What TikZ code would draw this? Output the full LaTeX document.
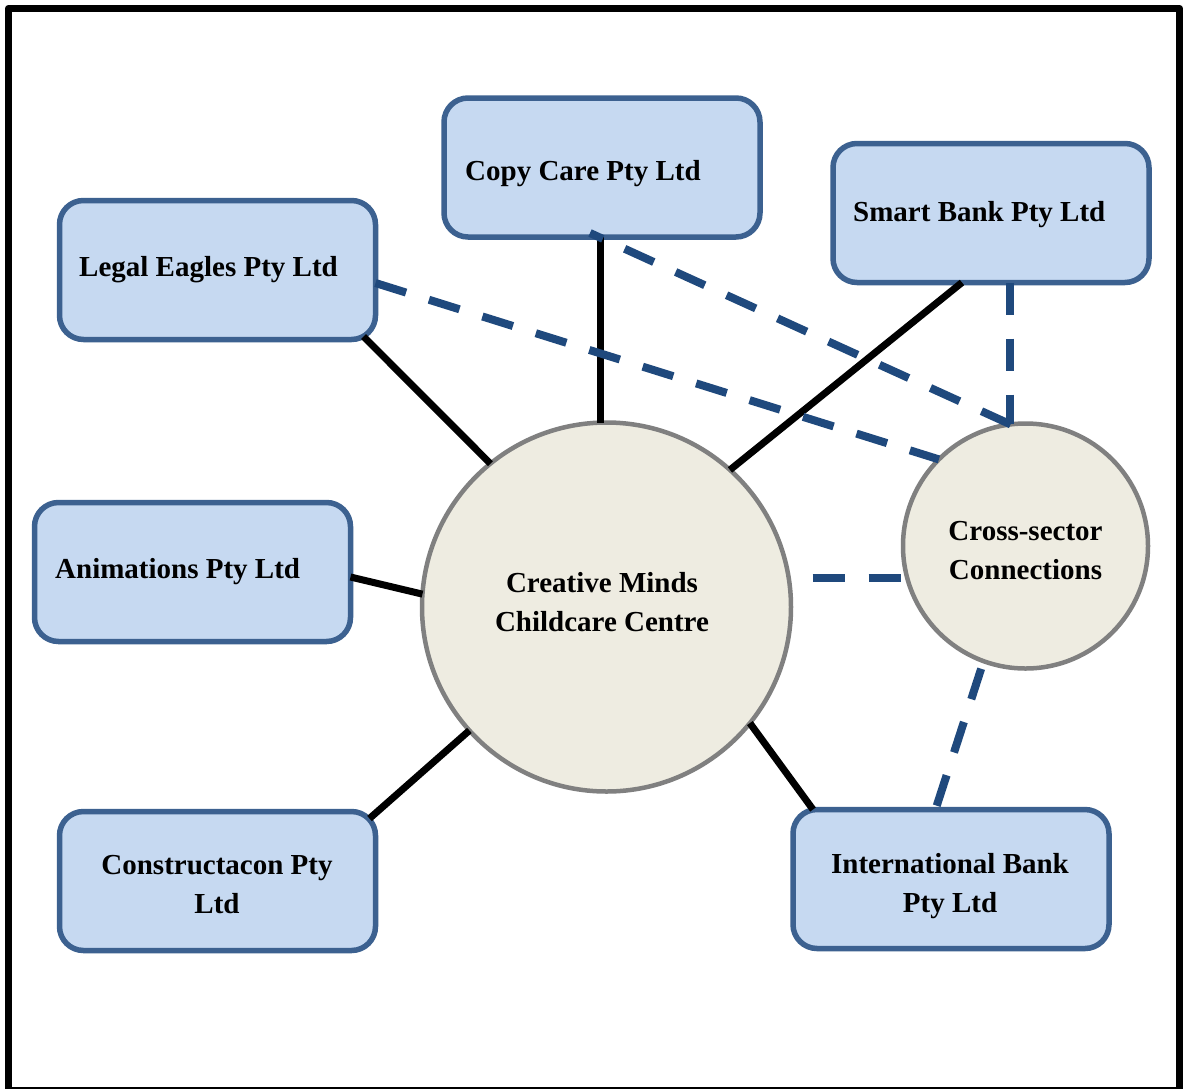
\documentclass[tikz,border=0pt]{standalone}
\usepackage{fontspec}
\setmainfont{Liberation Serif}
\usetikzlibrary{calc}
\definecolor{boxfill}{HTML}{C6D9F1}
\definecolor{boxline}{HTML}{3C6190}
\definecolor{dashc}{HTML}{1F497D}
\definecolor{circfill}{HTML}{EEECE1}
\definecolor{circline}{HTML}{808080}
\begin{document}
\begin{tikzpicture}[x=1pt,y=-1pt,
  orgbox/.style={draw=boxline, fill=boxfill, line width=5.5pt, rounded corners=24pt,
    minimum width=316pt, minimum height=139pt, inner sep=0pt, outer sep=0pt},
  hub/.style={circle, draw=circline, fill=circfill, line width=4.5pt, inner sep=0pt, outer sep=0pt},
  lbl/.style={font=\bfseries\fontsize{29}{39}\selectfont, inner sep=0pt, anchor=base west},
  mlbl/.style={font=\bfseries\fontsize{29}{39}\selectfont, inner sep=0pt, align=center, anchor=base},
  solidlink/.style={line width=7pt, black},
  dashlink/.style={line width=8pt, dashc, dash pattern=on 32pt off 24pt}]
\useasboundingbox (0,0) rectangle (1184,1088);
\fill[white] (0,0) rectangle (1184,1088);
\draw[line width=7.5pt, line join=round] (8.5,8.5) rectangle (1179.5,1091);

% boxes
\node[orgbox] (cc) at (602,167.5) {};
\node[orgbox] (sb) at (991,213) {};
\node[orgbox] (le) at (217.5,270) {};
\node[orgbox] (an) at (192.5,572) {};
\node[orgbox] (co) at (217.5,881) {};
\node[orgbox] (ib) at (951,879) {};
% hubs
\node[hub, minimum size=369pt] (cm) at (606.5,607) {};
\node[hub, minimum size=245pt] (cs) at (1025.5,546) {};

% labels
\node[lbl] (cct) at (465,180) {Copy Care Pty Ltd};
\node[lbl] (sbt) at (853,221) {Smart Bank Pty Ltd};
\node[lbl] (let) at (79,276) {Legal Eagles Pty Ltd};
\node[lbl] (ant) at (55,578) {Animations Pty Ltd};
\node[mlbl] (cot) at (217,913) {Constructacon Pty\\Ltd};
\node[mlbl] (ibt) at (950,912) {International Bank\\Pty Ltd};
\node[mlbl] (cmt) at (602,631) {Creative Minds\\Childcare Centre};
\node[mlbl] (cst) at (1025.5,579) {Cross-sector\\Connections};

% solid connectors
\draw[solidlink] ($(cc.south)+(-2,0)$) -- ($(cm.north)+(-6.5,0)$);
\draw[solidlink] ($(sb.south)+(-29,0)$) -- (cm.48.9);
\draw[solidlink] ($(le.south east)+(-12,-3)$) -- (cm.129.7);
\draw[solidlink] ($(an.east)+(0,5)$) -- (cm.176);
\draw[solidlink] ($(co.north east)+(-6,7)$) -- (cm.222.5);
\draw[solidlink] ($(ib.north west)+(20,0)$) -- (cm.321.9);

% dashed connectors
\coordinate (sbd) at ($(sb.south)+(19,0)$);
\draw[dashlink] ($(le.east)+(0,13)$) -- (cs.135.5);
\draw[dashlink] (cs.97.9) -- ($(cc.south)+(-12,-4)$);
\draw[dashlink] (sbd) -- (sbd |- cs.north);
\draw[dashlink, shorten <=24pt] (cm.9) -- (cs.194.9 |- cm.9);
\draw[dashlink, shorten <=8pt] (cs.250) -- ($(ib.north)+(-15.5,0)$);
\end{tikzpicture}
\end{document}
